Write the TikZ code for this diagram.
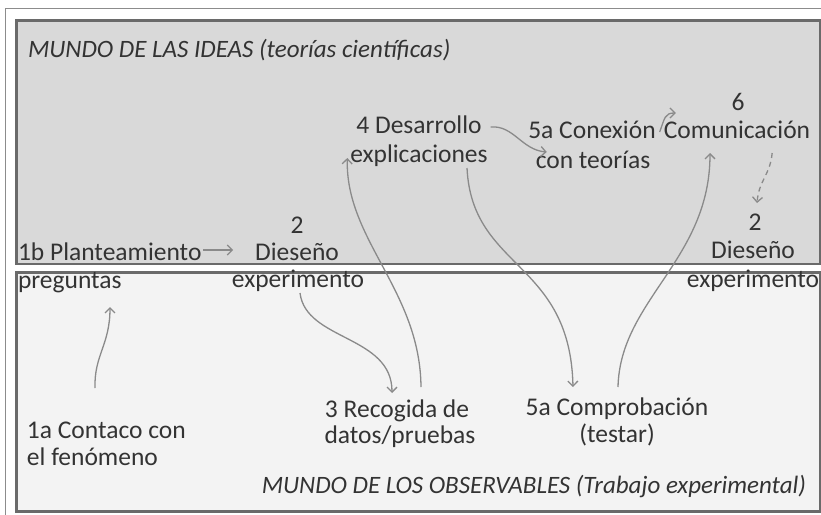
\documentclass[tikz,border=0pt]{standalone}
\usepackage{fontspec}
\setmainfont{Carlito}
\usetikzlibrary{arrows.meta}
\definecolor{txt}{HTML}{333333}
\definecolor{arrgray}{HTML}{8A8A8A}
\definecolor{ideasfill}{HTML}{D9D9D9}
\definecolor{obsfill}{HTML}{F3F3F3}
\definecolor{boxline}{HTML}{6A6A6A}
\definecolor{frameline}{HTML}{8C8C8C}
\begin{document}
\begin{tikzpicture}[x=1pt,y=-1pt,
  lbl/.style={inner sep=0pt,outer sep=0pt,text=txt,font=\fontsize{25.5}{28}\selectfont},
  ttl/.style={lbl,font=\fontsize{25}{28}\selectfont\itshape},
  arr/.style={draw=arrgray,line width=1.3pt,-{Straight Barb[length=5pt,width=10pt,line width=1.3pt]}},
  worldbox/.style={line width=2.2pt,draw=boxline}]
\useasboundingbox (0,0) rectangle (821,514);
\fill[white] (0,0) rectangle (821,514);
\draw[frameline,line width=1pt] (5.5,8.5) rectangle (830,530);
% boxes
\draw[worldbox,fill=ideasfill] (16.5,20.5) rectangle (820,264);
\draw[worldbox,fill=obsfill] (16.5,272.5) rectangle (820,511.5);
% titles
\node[ttl,anchor=base west] (tideas) at (28,57) {MUNDO DE LAS IDEAS (teorías científicas)};
\node[ttl,anchor=base east] (tobs) at (806,493) {MUNDO DE LOS OBSERVABLES (Trabajo experimental)};
% upper labels
\node[lbl,anchor=base] (d4a) at (419,133) {4 Desarrollo};
\node[lbl,anchor=base] (d4b) at (419,162) {explicaciones};
\node[lbl,anchor=base] (c5a) at (592,138) {5a Conexión};
\node[lbl,anchor=base] (c5b) at (593,168) {con teorías};
\node[lbl,anchor=base] (c6a) at (738,110) {6};
\node[lbl,anchor=base] (c6b) at (737,138) {Comunicación};
\node[lbl,anchor=base] (r2a) at (755,230) {2};
\node[lbl,anchor=base] (r2b) at (753,258) {Dieseño};
\node[lbl,anchor=base] (r2c) at (753,287) {experimento};
\node[lbl,anchor=base west] (p1a) at (18,260) {1b Planteamiento};
\node[lbl,anchor=base west] (p1b) at (18,288) {preguntas};
\node[lbl,anchor=base] (l2a) at (297,233) {2};
\node[lbl,anchor=base] (l2b) at (297,260) {Dieseño};
\node[lbl,anchor=base] (l2c) at (298,287) {experimento};
% lower labels
\node[lbl,anchor=base west] (a1a) at (27,438) {1a Contaco con};
\node[lbl,anchor=base west] (a1b) at (27,465) {el fenómeno};
\node[lbl,anchor=base] (r3a) at (397,417) {3 Recogida de};
\node[lbl,anchor=base] (r3b) at (400,443) {datos/pruebas};
\node[lbl,anchor=base] (t5a) at (617,415) {5a Comprobación};
\node[lbl,anchor=base] (t5b) at (617,442) {(testar)};
% connectors
\draw[arr] ([xshift=2pt,yshift=10pt]p1a.base east) -- ([xshift=-22pt,yshift=10pt]l2b.base west);
\draw[arr] ([xshift=68pt,yshift=50pt]a1a.base west) .. controls +(-1,-33) and +(0,38) .. ([xshift=92pt,yshift=-19pt]p1b.base west);
\draw[arr] ([xshift=2pt,yshift=-6pt]l2c.base) .. controls +(6,48) and +(0,-58) .. ([xshift=-5pt,yshift=24pt]r3a.base);
\draw[arr] ([xshift=24pt,yshift=30pt]r3a.base) .. controls +(-1,-97) and +(-2,82) .. ([xshift=-3pt,yshift=4pt]d4b.base west);
\draw[arr] ([xshift=48pt,yshift=-6pt]d4b.base) .. controls +(5,102) and +(-3,-127) .. ([xshift=-44pt,yshift=28pt]t5a.base);
\draw[arr] ([xshift=1pt,yshift=28pt]t5a.base) .. controls +(2,-87) and +(0,107) .. ([xshift=-27pt,yshift=-15pt]c6b.base);
\draw[arr] ([xshift=9pt,yshift=6pt]d4a.base east) .. controls +(23,-2) and +(-25,-2) .. ([xshift=11pt,yshift=16pt]c5b.base west);
\draw[arr] ([xshift=4pt,yshift=6pt]c5a.base east) .. controls +(5,-14) and +(-11,0) .. ([xshift=12pt,yshift=25pt]c6b.base west);
\draw[arr,dashed,dash pattern=on 5pt off 4pt] ([xshift=-38pt,yshift=-15pt]c6b.base east) .. controls +(-2,22) and +(2,-23) .. ([xshift=2pt,yshift=27pt]r2a.base);
\end{tikzpicture}
\end{document}
